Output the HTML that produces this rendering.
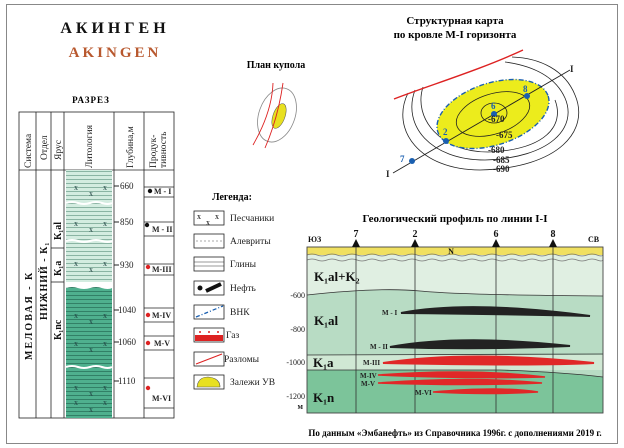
<!DOCTYPE html>
<html><head><meta charset="utf-8"><style>
body{margin:0;background:#fff}
svg{display:block}
text{font-family:"Liberation Serif",serif}
</style></head><body>
<svg width="624" height="448" viewBox="0 0 624 448" xmlns="http://www.w3.org/2000/svg">
<defs>
<pattern id="stL" width="10" height="4" patternUnits="userSpaceOnUse"><rect width="10" height="4" fill="#d3ece0"/><line x1="0" y1="3.6" x2="10" y2="3.6" stroke="#5a8f7a" stroke-width="0.6"/></pattern>
<pattern id="stD" width="10" height="4" patternUnits="userSpaceOnUse"><rect width="10" height="4" fill="#4fb08e"/><line x1="0" y1="3.6" x2="10" y2="3.6" stroke="#1e5f4a" stroke-width="0.6"/></pattern>
</defs>
<rect x="6.5" y="4.5" width="611" height="439" fill="#fff" stroke="#888" stroke-width="1"/>
<text x="115" y="33" font-size="16" font-weight="bold" text-anchor="middle" letter-spacing="4" fill="#111">АКИНГЕН</text>
<text x="115" y="57" font-size="15" font-weight="bold" text-anchor="middle" letter-spacing="3" fill="#b8582e">AKINGEN</text>
<text x="91" y="103" font-size="9" font-weight="bold" text-anchor="middle" letter-spacing="1">РАЗРЕЗ</text>
<g fill="none" stroke="#222" stroke-width="0.8">
<rect x="19" y="112" width="155" height="306"/>
<line x1="19" y1="170" x2="174" y2="170"/>
<line x1="36" y1="112" x2="36" y2="418"/>
<line x1="51" y1="112" x2="51" y2="418"/>
<line x1="64" y1="112" x2="64" y2="418"/>
<line x1="114" y1="112" x2="114" y2="418"/>
<line x1="144" y1="112" x2="144" y2="418"/>
<line x1="51" y1="248" x2="64" y2="248"/>
<line x1="51" y1="282" x2="64" y2="282"/>
</g>
<g font-size="9.5" fill="#222">
<text transform="translate(31,168) rotate(-90)">Система</text>
<text transform="translate(47,160) rotate(-90)">Отдел</text>
<text transform="translate(61,160) rotate(-90)">Ярус</text>
<text transform="translate(92,168) rotate(-90)">Литология</text>
<text transform="translate(133,168) rotate(-90)">Глубина,м</text>
<text transform="translate(156,168) rotate(-90)">Продук-</text>
<text transform="translate(166,168) rotate(-90)">тивность</text>
</g>
<g font-size="10" font-weight="bold" fill="#111">
<text transform="translate(32,360) rotate(-90)" letter-spacing="2">МЕЛОВАЯ - К</text>
<text transform="translate(47,320) rotate(-90)" letter-spacing="1">НИЖНИЙ - К₁</text>
<text transform="translate(61,240) rotate(-90)">К₁al</text>
<text transform="translate(61,276) rotate(-90)">К₁a</text>
<text transform="translate(61,340) rotate(-90)">К₁nc</text>
</g>
<rect x="66" y="170" width="46" height="112" fill="url(#stL)"/>
<rect x="66" y="287" width="46" height="131" fill="url(#stD)"/>
<g stroke="#fff" stroke-width="2" fill="none">
<path d="M66 203 q6 -2 12 0 t12 0 t12 0 t10 0"/>
<path d="M66 241 q6 -2 12 0 t12 0 t12 0 t10 0"/>
<path d="M66 287 q6 -2 12 0 t12 0 t12 0 t10 0"/>
<path d="M66 367 q6 -2 12 0 t12 0 t12 0 t10 0"/>
</g>
<g font-size="8" fill="#244" font-family="Liberation Sans">
<text x="74" y="190">x</text><text x="103" y="190">x</text><text x="89" y="196">x</text>
<text x="74" y="226">x</text><text x="103" y="226">x</text><text x="89" y="232">x</text>
<text x="74" y="266">x</text><text x="103" y="266">x</text><text x="89" y="272">x</text>
<text x="74" y="318">x</text><text x="103" y="318">x</text><text x="89" y="324">x</text>
<text x="74" y="346">x</text><text x="103" y="346">x</text><text x="89" y="352">x</text>
<text x="74" y="390">x</text><text x="103" y="390">x</text><text x="89" y="396">x</text>
<text x="74" y="405">x</text><text x="103" y="405">x</text><text x="89" y="412">x</text>
</g>
<g font-size="9" fill="#222">
<line x1="114" y1="186" x2="119" y2="186" stroke="#222"/><text x="120" y="189">660</text>
<line x1="114" y1="222" x2="119" y2="222" stroke="#222"/><text x="120" y="225">850</text>
<line x1="114" y1="265" x2="119" y2="265" stroke="#222"/><text x="120" y="268">930</text>
<line x1="114" y1="310" x2="119" y2="310" stroke="#222"/><text x="118" y="313">1040</text>
<line x1="114" y1="342" x2="119" y2="342" stroke="#222"/><text x="118" y="345">1060</text>
<line x1="114" y1="381" x2="119" y2="381" stroke="#222"/><text x="118" y="384">1110</text>
</g>
<g stroke="#222" stroke-width="0.8">
<line x1="144" y1="187" x2="174" y2="187"/><line x1="144" y1="197" x2="174" y2="197"/>
<line x1="144" y1="222" x2="174" y2="222"/><line x1="144" y1="236" x2="174" y2="236"/>
<line x1="144" y1="264" x2="174" y2="264"/><line x1="144" y1="275" x2="174" y2="275"/>
<line x1="144" y1="308" x2="174" y2="308"/><line x1="144" y1="322" x2="174" y2="322"/>
<line x1="144" y1="336" x2="174" y2="336"/><line x1="144" y1="350" x2="174" y2="350"/>
<line x1="144" y1="378" x2="174" y2="378"/><line x1="144" y1="408" x2="174" y2="408"/>
</g>
<g font-size="8" font-weight="bold" fill="#222">
<circle cx="150" cy="191" r="2.2" fill="#111"/><text x="154" y="194">M - I</text>
<circle cx="147" cy="225" r="2.2" fill="#111"/><text x="152" y="232">M - II</text>
<circle cx="148" cy="267" r="2.2" fill="#d22"/><text x="152" y="272">M-III</text>
<circle cx="148" cy="315" r="2.2" fill="#d22"/><text x="152" y="318">M-IV</text>
<circle cx="148" cy="343" r="2.2" fill="#d22"/><text x="154" y="346">M-V</text>
<circle cx="148" cy="388" r="2.2" fill="#d22"/><text x="152" y="401">M-VI</text>
</g>
<text x="276" y="68" font-size="10" font-weight="bold" text-anchor="middle">План купола</text>
<ellipse cx="277" cy="115" rx="18" ry="28" transform="rotate(20 277 115)" fill="none" stroke="#888" stroke-width="0.8"/>
<ellipse cx="279" cy="116" rx="6" ry="13" transform="rotate(20 279 116)" fill="#e8e020" stroke="#555" stroke-width="0.5"/>
<path d="M273 83 Q272 112 253 145" stroke="#d22" fill="none" stroke-width="0.9"/>
<path d="M283 83 Q278 118 265 148" stroke="#d22" fill="none" stroke-width="0.9"/>
<text x="455" y="24" font-size="11" font-weight="bold" text-anchor="middle">Структурная карта</text>
<text x="455" y="38" font-size="11" font-weight="bold" text-anchor="middle">по кровле М-I горизонта</text>
<g fill="none" stroke="#222" stroke-width="0.8">
<path d="M408 93 C390 130 420 170 480 170 C560 168 590 130 575 95 C565 70 540 58 512 57"/>
<path d="M415 90 C402 125 430 160 485 160 C550 158 578 128 565 98 C556 78 535 66 505 62"/>
<path d="M423 87 C413 118 440 152 488 152 C545 150 565 126 555 100"/>
</g>
<ellipse cx="493" cy="114" rx="58" ry="31" transform="rotate(-18 493 114)" fill="#ecec1c" stroke="#1a5fb0" stroke-width="1.4" stroke-dasharray="5,2,1,2"/>
<ellipse cx="493" cy="114" rx="38" ry="20" transform="rotate(-18 493 114)" fill="none" stroke="#222" stroke-width="0.8"/>
<ellipse cx="494" cy="113" rx="13" ry="10" fill="none" stroke="#222" stroke-width="0.8"/>
<path d="M394 99 C430 85 480 70 523 50" stroke="#d22" stroke-width="1.4" fill="none"/>
<line x1="393" y1="173" x2="570" y2="70" stroke="#222" stroke-width="0.9"/>
<g fill="#1a5fb0"><circle cx="412" cy="161" r="3"/><circle cx="446" cy="141" r="3"/><circle cx="494" cy="114" r="3"/><circle cx="527" cy="96" r="3"/></g>
<g font-size="9" font-weight="bold" fill="#222">
<text x="386" y="177">I</text><text x="570" y="72">I</text>
<text x="400" y="162" fill="#1a5fb0">7</text><text x="443" y="135" fill="#1a5fb0">2</text><text x="491" y="109" fill="#1a5fb0">6</text><text x="523" y="92" fill="#1a5fb0">8</text>
<text x="488" y="122">-670</text><text x="496" y="138">-675</text><text x="488" y="153">-680</text><text x="493" y="163">-685</text><text x="493" y="172">-690</text>
</g>
<text x="232" y="200" font-size="10" font-weight="bold" text-anchor="middle">Легенда:</text>
<g fill="none" stroke="#222" stroke-width="0.8">
<rect x="194" y="211" width="30" height="14"/>
<rect x="194" y="234" width="30" height="14"/>
<rect x="194" y="257" width="30" height="14"/>
<rect x="194" y="281" width="30" height="14"/>
<rect x="194" y="305" width="30" height="14"/>
<rect x="194" y="328" width="30" height="14"/>
<rect x="194" y="352" width="30" height="14"/>
<rect x="194" y="375" width="30" height="14"/>
</g>
<text x="197" y="219" font-size="8">x</text><text x="215" y="219" font-size="8">x</text><text x="206" y="225" font-size="8">x</text>
<line x1="196" y1="241" x2="222" y2="241" stroke="#555" stroke-dasharray="2,2" stroke-width="0.6"/>
<line x1="194" y1="262" x2="224" y2="262" stroke="#333" stroke-width="0.6"/><line x1="194" y1="266" x2="224" y2="266" stroke="#333" stroke-width="0.6"/>
<circle cx="200" cy="288" r="2.5" fill="#111"/><line x1="206" y1="291" x2="221" y2="284" stroke="#111" stroke-width="4"/>
<line x1="196" y1="317" x2="223" y2="306" stroke="#1a5fb0" stroke-width="1.3" stroke-dasharray="4,2,1,2"/>
<rect x="195" y="335" width="28" height="6" fill="#d22"/><g fill="#d22"><circle cx="200" cy="332" r="1"/><circle cx="209" cy="332" r="1"/><circle cx="218" cy="332" r="1"/></g>
<line x1="196" y1="364" x2="222" y2="354" stroke="#d22" stroke-width="1"/>
<path d="M197 387 Q198 377 208 377 Q220 378 220 387 Z" fill="#e8e020" stroke="#555" stroke-width="0.6"/>
<g font-size="9.5" fill="#222">
<text x="230" y="221">Песчаники</text><text x="230" y="244">Алевриты</text><text x="230" y="267">Глины</text>
<text x="230" y="291">Нефть</text><text x="230" y="315">ВНК</text><text x="226" y="338">Газ</text>
<text x="224" y="362">Разломы</text><text x="230" y="385">Залежи УВ</text>
</g>
<text x="455" y="222" font-size="11" font-weight="bold" text-anchor="middle">Геологический профиль по линии I-I</text>
<rect x="307" y="255" width="296" height="158" fill="#e0efe2"/>
<path d="M307 295 Q380 287 420 291 T603 296 L603 413 L307 413 Z" fill="#b8dcc4"/>
<rect x="307" y="355" width="296" height="15" fill="#d0e8d4"/>
<path d="M307 370 L500 370 Q560 372 603 377 L603 413 L307 413 Z" fill="#7cc49a"/>
<path d="M307 295 Q380 287 420 291 T603 296" fill="none" stroke="#333" stroke-width="0.8"/>
<line x1="307" y1="355" x2="603" y2="354" stroke="#333" stroke-width="0.8"/>
<path d="M307 370 L500 370 Q560 372 603 377" fill="none" stroke="#333" stroke-width="0.8"/>
<rect x="307" y="247" width="296" height="8" fill="#f0e060"/>
<path d="M307 255 q5 -2 10 0 t10 0 t10 0 t10 0 t10 0 t10 0 t10 0 t10 0 t10 0 t10 0 t10 0 t10 0 t10 0 t10 0 t10 0 t10 0 t10 0 t10 0 t10 0 t10 0 t10 0 t10 0 t10 0 t10 0 t10 0 t10 0 t10 0 t10 0 t10 0 t6 0" fill="none" stroke="#777" stroke-width="0.7"/>
<path d="M307 260 q5 -2 10 0 t10 0 t10 0 t10 0 t10 0 t10 0 t10 0 t10 0 t10 0 t10 0 t10 0 t10 0 t10 0 t10 0 t10 0 t10 0 t10 0 t10 0 t10 0 t10 0 t10 0 t10 0 t10 0 t10 0 t10 0 t10 0 t10 0 t10 0 t10 0 t6 0" fill="none" stroke="#777" stroke-width="0.7"/>
<rect x="307" y="247" width="296" height="166" fill="none" stroke="#444" stroke-width="0.9"/>
<g stroke="#333" stroke-width="0.8"><line x1="356" y1="247" x2="356" y2="413"/><line x1="415" y1="247" x2="415" y2="413"/><line x1="496" y1="247" x2="496" y2="413"/><line x1="553" y1="247" x2="553" y2="413"/></g>
<g fill="#111"><path d="M352 247 L356 239 L360 247Z"/><path d="M411 247 L415 239 L419 247Z"/><path d="M492 247 L496 239 L500 247Z"/><path d="M549 247 L553 239 L557 247Z"/></g>
<g font-size="10" font-weight="bold" fill="#111">
<text x="356" y="237" text-anchor="middle">7</text><text x="415" y="237" text-anchor="middle">2</text><text x="496" y="237" text-anchor="middle">6</text><text x="553" y="237" text-anchor="middle">8</text>
<text x="308" y="242" font-size="8">ЮЗ</text><text x="588" y="242" font-size="8">СВ</text>
<text x="451" y="254" font-size="8" text-anchor="middle">N</text>
<text x="314" y="281" font-size="13">K₁al+K₂</text>
<text x="314" y="325" font-size="13">K₁al</text>
<text x="313" y="367" font-size="13">K₁a</text>
<text x="313" y="402" font-size="13">K₁n</text>
</g>
<g font-size="8" fill="#222" text-anchor="end">
<text x="305" y="298">-600</text><text x="305" y="332">-800</text><text x="305" y="365">-1000</text><text x="305" y="399">-1200</text><text x="303" y="409" font-weight="bold">м</text>
</g>
<g fill="#222"><path d="M401 313 Q470 300 590 316 Q500 314 401 313Z" stroke="#222" stroke-width="2"/>
<path d="M390 347 Q460 334 570 346 Q480 350 390 347Z" stroke="#222" stroke-width="2"/></g>
<g fill="#e02828">
<path d="M383 363 Q470 350 594 363 Q540 366 383 363Z" stroke="#e02828" stroke-width="2"/>
<path d="M378 375 Q470 368 545 377 Q470 379 378 375Z" stroke="#e02828" stroke-width="1.5"/>
<path d="M378 383 Q470 376 542 383 Q470 386 378 383Z" stroke="#e02828" stroke-width="1.5"/>
<path d="M433 392 Q500 386 538 392 Q490 395 433 392Z" stroke="#e02828" stroke-width="1.5"/>
</g>
<g font-size="7" font-weight="bold" fill="#222">
<text x="382" y="315">M - I</text><text x="370" y="349">M - II</text><text x="363" y="365">M-III</text>
<text x="360" y="378">M-IV</text><text x="361" y="386">M-V</text><text x="415" y="395">M-VI</text>
</g>
<text x="455" y="436" font-size="9" font-weight="bold" text-anchor="middle" font-family="Liberation Sans">По данным «Эмбанефть» из Справочника 1996г. с дополнениями 2019 г.</text>
</svg>
</body></html>
